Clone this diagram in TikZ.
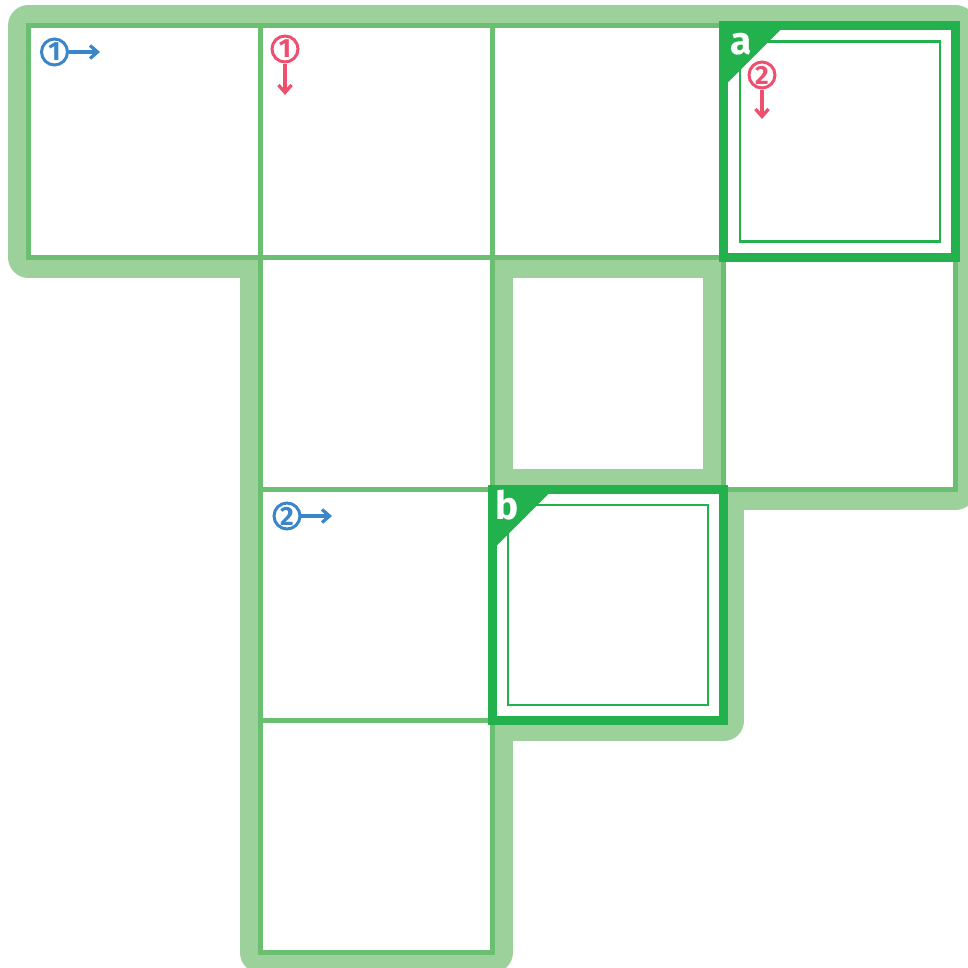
\documentclass[tikz,border=0pt]{standalone}
\usepackage{fontspec}
\newfontfamily\letterfont{Fira Sans}
\usetikzlibrary{arrows.meta}
\definecolor{bandc}{RGB}{157,209,155}
\definecolor{gridc}{RGB}{106,191,112}
\definecolor{darkc}{RGB}{34,177,76}
\definecolor{bluec}{RGB}{58,134,200}
\definecolor{pinkc}{RGB}{239,79,110}
\begin{document}
\begin{tikzpicture}[x=0.02cm,y=-0.02cm,
  bandline/.style={draw=bandc, line width=0.82cm},
  cell/.style={rectangle, draw=gridc, line width=0.1cm, minimum size=4.636cm, inner sep=0pt, outer sep=0pt},
  keycell/.style={rectangle, draw=darkc, line width=0.18cm, minimum size=4.636cm, inner sep=0pt, outer sep=0pt},
  innersq/.style={rectangle, draw=darkc, line width=0.05cm, minimum size=4.0cm, inner sep=0pt, outer sep=0pt},
  keyletter/.style={text=white, font=\letterfont\bfseries\fontsize{22.1}{22}\selectfont, inner sep=0pt, anchor=base west},
  numbase/.style={circle, line width=0.06cm, minimum size=0.52cm, inner sep=0pt, font=\letterfont\bfseries\fontsize{15}{16}\selectfont},
  bluenum/.style={numbase, draw=bluec, text=bluec},
  pinknum/.style={numbase, draw=pinkc, text=pinkc},
  bluearr/.style={draw=bluec, line width=0.065cm, -{Straight Barb[length=0.15cm,width=0.26cm]}},
  pinkarr/.style={draw=pinkc, line width=0.065cm, -{Straight Barb[length=0.15cm,width=0.26cm]}},
]
\useasboundingbox (0,0) rectangle (968,968);
\clip (0,0) rectangle (968,968);
% light band
\draw[bandline, line join=round] (28.5,25.5) -- (955.7,25.5) -- (955.7,489.1) -- (723.9,489.1) -- (723.9,720.9) -- (492.1,720.9) -- (492.1,952.7) -- (260.3,952.7) -- (260.3,257.3) -- (28.5,257.3) -- cycle;
\draw[bandline] (492.1,257.3) rectangle (723.9,489.1);
% white interior
\fill[white, even odd rule] (28.5,25.5) -- (955.7,25.5) -- (955.7,489.1) -- (723.9,489.1) -- (723.9,720.9) -- (492.1,720.9) -- (492.1,952.7) -- (260.3,952.7) -- (260.3,257.3) -- (28.5,257.3) -- cycle (492.1,257.3) rectangle (723.9,489.1);
% cells
\node[cell] (r1c1) at (144.4,141.4) {};
\node[cell] (r1c2) at (376.2,141.4) {};
\node[cell] (r1c3) at (608,141.4) {};
\node[cell] (r2c2) at (376.2,373.2) {};
\node[cell] (r2c4) at (839.8,373.2) {};
\node[cell] (r3c2) at (376.2,605) {};
\node[cell] (r4c2) at (376.2,836.8) {};
% key cells
\node[keycell] (a) at (839.8,141.4) {};
\node[keycell] (b) at (608,605) {};
\node[innersq] (ain) at (a.center) {};
\node[innersq] (bin) at (b.center) {};
\fill[darkc] (a.north west) -- ++(61,0) -- ++(-61,61) -- cycle;
\fill[darkc] (b.north west) -- ++(61,0) -- ++(-61,61) -- cycle;
\node[keyletter] (la) at (730,54) {a};
\node[keyletter] (lb) at (495.5,519.5) {b};
% clue markers
\node[bluenum] (h1) at (54.5,52) {1};
\coordinate (h1end) at (100,52);
\draw[bluearr] (h1.east) -- (h1end);
\node[pinknum] (v1) at (285,49) {1};
\coordinate (v1end) at (285,95);
\draw[pinkarr] (v1.south) -- (v1end);
\node[pinknum] (v2) at (762,75) {2};
\coordinate (v2end) at (762,119);
\draw[pinkarr] (v2.south) -- (v2end);
\node[bluenum] (h2) at (287,516) {2};
\coordinate (h2end) at (332,516);
\draw[bluearr] (h2.east) -- (h2end);
\end{tikzpicture}
\end{document}
